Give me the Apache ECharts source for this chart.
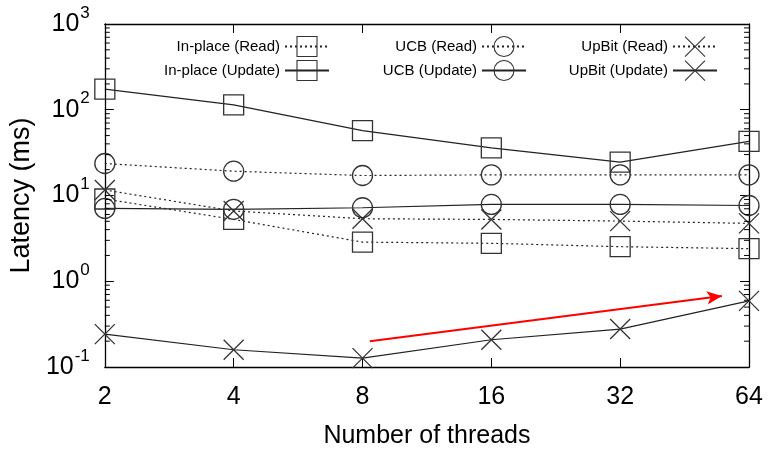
<!DOCTYPE html>
<html><head><meta charset="utf-8">
<script src="https://cdn.jsdelivr.net/npm/echarts@6/dist/echarts.min.js"></script>
<style>html,body{margin:0;padding:0;background:#fff}#c{width:778px;height:454px}</style>
</head><body><div id="c"></div>
<script>
// ---- data ----
const threads = [2, 4, 8, 16, 32, 64];
const inplaceRead   = [9.1, 5.26, 2.86, 2.77, 2.53, 2.4];
const inplaceUpdate = [174, 114, 57, 35.9, 24.5, 42.8];
const ucbRead       = [23.6, 19.2, 17.1, 17.4, 17.4, 17.4];
const ucbUpdate     = [7.06, 6.9, 7.2, 7.86, 7.86, 7.65];
const upbitRead     = [11.6, 6.6, 5.36, 5.26, 5.03, 4.73];
const upbitUpdate   = [0.242, 0.159, 0.127, 0.208, 0.277, 0.59];
const seriesNames = ['In-place (Read)', 'In-place (Update)', 'UCB (Read)', 'UCB (Update)', 'UpBit (Read)', 'UpBit (Update)'];
const xTickLabels = ['2', '4', '8', '16', '32', '64'];
const yExponents = [-1, 0, 1, 2, 3];
const yMinorTicks = [0.2,0.3,0.4,0.5,0.6,0.7,0.8,0.9, 2,3,4,5,6,7,8,9, 20,30,40,50,60,70,80,90, 200,300,400,500,600,700,800,900];
const arrowStart = [8.32, 0.2];
const arrowEnd = [55.3, 0.675];

const FONT = 'Liberation Sans, Arial, Helvetica, sans-serif';
const INK = '#222';
const SYM = {
  square: 'rect',
  circle: 'circle',
  cross: 'path://M0 0L20 20M20 0L0 20'
};

function pairs(arr) { return threads.map((t, i) => [t, arr[i]]); }

function mkSeries(name, arr, sym, dotted) {
  return {
    name: name, type: 'line', data: pairs(arr),
    xAxisIndex: 0, yAxisIndex: 0,
    symbol: SYM[sym], symbolSize: 20, showSymbol: true,
    lineStyle: { color: INK, width: 1.2, type: dotted ? [2, 3] : 'solid' },
    itemStyle: { color: 'rgba(0,0,0,0)', borderColor: '#333', borderWidth: 1.3 },
    emphasis: { disabled: true }, silent: true, z: 3
  };
}

const series = [
  mkSeries(seriesNames[0], inplaceRead, 'square', true),
  mkSeries(seriesNames[1], inplaceUpdate, 'square', false),
  mkSeries(seriesNames[2], ucbRead, 'circle', true),
  mkSeries(seriesNames[3], ucbUpdate, 'circle', false),
  mkSeries(seriesNames[4], upbitRead, 'cross', true),
  mkSeries(seriesNames[5], upbitUpdate, 'cross', false)
];

// red arrow annotation
series[5].markLine = {
  silent: true, symbol: ['none', 'arrow'], symbolSize: [10, 15],
  lineStyle: { color: '#ff0000', width: 2, type: 'solid' },
  label: { show: false },
  data: [[{ coord: arrowStart }, { coord: arrowEnd }]]
};

// minor ticks on the log y axis (left and right borders)
series.push({
  type: 'custom', xAxisIndex: 0, yAxisIndex: 0, silent: true, clip: false, z: 5,
  data: yMinorTicks.map(v => [threads[0], v]),
  renderItem: function (params, api) {
    const v = api.value(1);
    const l = api.coord([threads[0], v]);
    const r = api.coord([threads[threads.length - 1], v]);
    const st = { stroke: '#000', lineWidth: 1 };
    return { type: 'group', children: [
      { type: 'line', shape: { x1: l[0], y1: l[1], x2: l[0] + 5, y2: l[1] }, style: st },
      { type: 'line', shape: { x1: r[0], y1: r[1], x2: r[0] - 5, y2: r[1] }, style: st }
    ]};
  }
});

const axisLine = { show: true, lineStyle: { color: '#000', width: 1.3 } };
const tick = { show: true, inside: true, length: 9, lineStyle: { color: '#000', width: 1 } };

const xBase = { type: 'log', logBase: 2, min: threads[0], max: threads[threads.length - 1],
  axisLine: axisLine, axisTick: tick, splitLine: { show: false }, minorTick: { show: false } };
const yBase = { type: 'log', logBase: 10, min: Math.pow(10, yExponents[0]), max: Math.pow(10, yExponents[yExponents.length - 1]),
  axisLine: axisLine, axisTick: tick, splitLine: { show: false }, minorTick: { show: false } };

function legendItem(name, right, top) {
  return {
    orient: 'vertical', align: 'right', right: right, top: top, padding: 0,
    itemWidth: 44, itemHeight: 25,
    itemStyle: { borderWidth: 1.1 },
    textStyle: { fontFamily: FONT, fontSize: 15, color: '#000' },
    data: [name], selectedMode: false
  };
}
const rowTop = [36, 60];
const colRight = [448, 251, 60];

const option = {
  animation: false,
  backgroundColor: '#fff',
  grid: { left: 102, right: 29, top: 24, bottom: 86, containLabel: false },
  legend: seriesNames.map((n, i) => legendItem(n, colRight[Math.floor(i / 2)], rowTop[i % 2])),
  xAxis: [
    Object.assign({}, xBase, {
      position: 'bottom',
      name: 'Number of threads', nameLocation: 'middle', nameGap: 57,
      nameTextStyle: { fontFamily: FONT, fontSize: 25, color: '#000' },
      axisLabel: { fontFamily: FONT, fontSize: 25, color: '#000', margin: 18,
        formatter: function (v) { const i = threads.indexOf(Math.round(v)); return i >= 0 ? xTickLabels[i] : ''; } }
    }),
    Object.assign({}, xBase, { position: 'top', axisLabel: { show: false } })
  ],
  yAxis: [
    Object.assign({}, yBase, {
      position: 'left',
      name: 'Latency (ms)', nameLocation: 'middle', nameGap: 56,
      nameTextStyle: { fontFamily: FONT, fontSize: 27, color: '#000' },
      axisLabel: { margin: 15, color: '#000',
        formatter: function (v) {
          const e = Math.round(Math.log10(v));
          return yExponents.indexOf(e) >= 0 ? '{b|10}{s|' + e + '}' : '';
        },
        rich: {
          b: { fontFamily: FONT, fontSize: 25, color: '#000' },
          s: { fontFamily: FONT, fontSize: 17, color: '#000', padding: [0, 0, 22, 1] }
        }
      }
    }),
    Object.assign({}, yBase, { position: 'right', axisLabel: { show: false } })
  ],
  series: series
};

const chart = echarts.init(document.getElementById('c'), null, { renderer: 'canvas' });
chart.setOption(option);
</script>
</body></html>
